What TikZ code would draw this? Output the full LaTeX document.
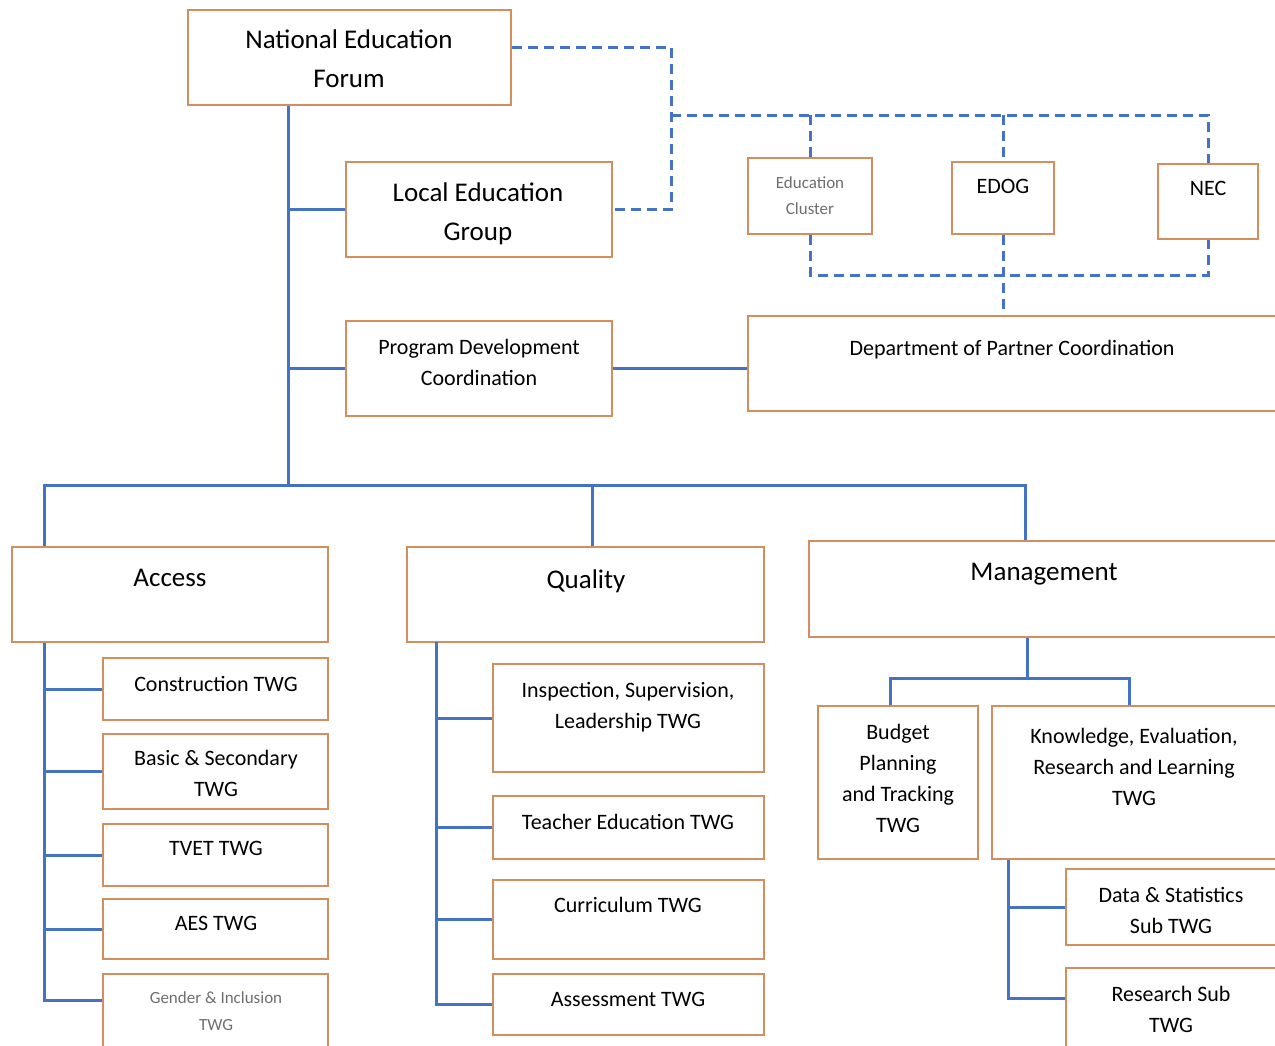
\documentclass[tikz,border=0pt]{standalone}
\usepackage{fontspec}
\setmainfont{Carlito}
\usepackage{xcolor}
\usepackage{tikz}
\usetikzlibrary{fit}

\definecolor{linkc}{RGB}{68,114,196}
\definecolor{boxc}{RGB}{211,141,95}
\definecolor{faint}{RGB}{110,110,110}

\begin{document}
\begin{tikzpicture}[
  x=0.5pt, y=-0.5pt,
  unit/.style={draw=boxc, line width=1pt, inner sep=0pt},
  big/.style={align=center, anchor=north, inner sep=0pt, font=\fontsize{13.5}{19.5}\selectfont},
  mid/.style={align=center, anchor=north, inner sep=0pt, font=\fontsize{11}{15.5}\selectfont},
  small/.style={align=center, anchor=north, inner sep=0pt, text=faint, font=\fontsize{8.5}{13}\selectfont},
  link/.style={draw=linkc, line width=1.5pt},
  dlink/.style={link, dash pattern=on 5pt off 3pt}
]
\useasboundingbox (0,0) rectangle (1275,1045);

% top level
\node[unit, fit={(188,10) (511,105)}] (nef) {};
\node[big] at (349,29) {National Education\\Forum};
\node[unit, fit={(346,162) (612,257)}] (leg) {};
\node[big] at (478,182) {Local Education\\Group};
\node[unit, fit={(346,321) (612,416)}] (pdc) {};
\node[mid] at (479,339) {Program Development\\Coordination};

% partners
\node[unit, fit={(748,158) (872,234)}] (edc) {};
\node[small] at (810,176) {Education\\Cluster};
\node[unit, fit={(952,162) (1054,234)}] (edog) {};
\node[mid] at (1003,179) {EDOG};
\node[unit, fit={(1158,164) (1258,239)}] (nec) {};
\node[mid] at (1208,181) {NEC};
\node[unit, fit={(748,316) (1282,411)}] (dpc) {};
\node[mid] at (1012,340) {Department of Partner Coordination};

% pillars
\node[unit, fit={(12,547) (328,642)}] (access) {};
\node[big] at (170,569) {Access};
\node[unit, fit={(407,547) (764,642)}] (quality) {};
\node[big] at (586,569) {Quality};
\node[unit, fit={(809,541) (1282,637)}] (mgmt) {};
\node[big] at (1044,563) {Management};

% access TWGs
\node[unit, fit={(103,658) (328,720)}] (cons) {};
\node[mid] at (216,676) {Construction TWG};
\node[unit, fit={(103,734) (328,809)}] (basic) {};
\node[mid] at (216,750) {Basic \& Secondary\\TWG};
\node[unit, fit={(103,824) (328,886)}] (tvet) {};
\node[mid] at (216,841) {TVET TWG};
\node[unit, fit={(103,899) (328,959)}] (aes) {};
\node[mid] at (216,916) {AES TWG};
\node[unit, fit={(103,974) (328,1052)}] (gender) {};
\node[small, font=\fontsize{8.5}{13.5}\selectfont] at (216,991) {Gender \& Inclusion\\TWG};

% quality TWGs
\node[unit, fit={(493,664) (764,772)}] (insp) {};
\node[mid] at (628,682) {Inspection, Supervision,\\Leadership TWG};
\node[unit, fit={(493,796) (764,859)}] (teach) {};
\node[mid] at (628,814) {Teacher Education TWG};
\node[unit, fit={(493,880) (764,959)}] (curr) {};
\node[mid] at (628,897) {Curriculum TWG};
\node[unit, fit={(493,974) (764,1035)}] (assess) {};
\node[mid] at (628,992) {Assessment TWG};

% management TWGs
\node[unit, fit={(818,706) (978,859)}] (budget) {};
\node[mid] at (898,724) {Budget\\Planning\\and Tracking\\TWG};
\node[unit, fit={(992,706) (1282,859)}] (know) {};
\node[mid] at (1134,728) {Knowledge, Evaluation,\\Research and Learning\\TWG};
\node[unit, fit={(1066,869) (1282,945)}] (dsub) {};
\node[mid] at (1171,887) {Data \& Statistics\\Sub TWG};
\node[unit, fit={(1066,968) (1282,1052)}] (rsub) {};
\node[mid] at (1171,986) {Research Sub\\TWG};

% solid links
\coordinate (trunk) at (288,485);
\draw[link] (nef.south -| trunk) -- (trunk);
\draw[link] (trunk |- leg.west) -- (leg.west);
\draw[link] (trunk |- pdc.west) -- (pdc.west);
\draw[link] (pdc.east) -- (dpc.west |- pdc.east);

\coordinate (accx) at (44,485);
\coordinate (qx) at (592,485);
\coordinate (mx) at (1025,485);
\draw[link] (access.north -| accx) -- (accx) -- (mx) -- (mgmt.north -| mx);
\draw[link] (qx) -- (quality.north -| qx);

\coordinate (accend) at (44,1000);
\draw[link] (access.south -| accend) -- (accend) -- (accend -| gender.west);
\foreach \n in {cons,basic,tvet,aes}
  \draw[link] (accend |- \n.west) -- (\n.west);

\coordinate (qsp) at (436,642);
\draw[link] (qsp) |- (assess.west);
\foreach \n in {insp,teach,curr}
  \draw[link] (qsp |- \n.west) -- (\n.west);

\coordinate (msp) at (1027,678);
\coordinate (bx) at (890,678);
\coordinate (kx) at (1129,678);
\draw[link] (mgmt.south -| msp) -- (msp);
\draw[link] (budget.north -| bx) -- (bx) -- (kx) -- (know.north -| kx);

\coordinate (ksp) at (1008,998);
\draw[link] (know.south -| ksp) -- (ksp) -- (ksp -| rsub.west);
\draw[link] (ksp |- dsub.west) -- (dsub.west);

% dashed links
\coordinate (dtop) at (671,47);
\coordinate (dj) at (671,115);
\coordinate (db) at (0,275);
\draw[dlink] (nef.east |- dtop) -- (dtop) |- (leg.east);
\draw[dlink] (dj) -| (nec.north);
\draw[dlink] (dj -| edc.north) -- (edc.north);
\draw[dlink] (dj -| edog.north) -- (edog.north);
\draw[dlink] (edc.south) -- (edc.south |- db) -- (nec.south |- db) -- (nec.south);
\draw[dlink] (edog.south) -- (dpc.north -| edog.south);
\end{tikzpicture}
\end{document}
